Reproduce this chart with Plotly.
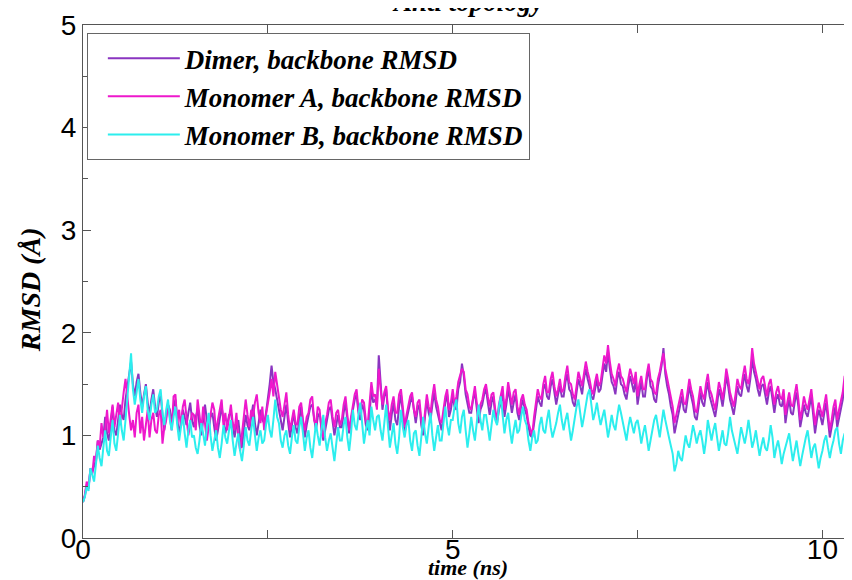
import plotly.graph_objects as go

# sampling interval of the trajectory frames (ns)
TIME_STEP_NS = 0.025

# backbone RMSD (Angstrom), one value per frame
dimer_rmsd = [
    0.35, 0.41, 0.52, 0.48, 0.68, 0.64, 0.70, 0.76, 0.95, 0.86, 0.92, 0.98, 1.18, 1.02, 0.95, 1.10, 1.28, 1.05, 1.00, 1.15,
    1.30, 1.20, 1.15, 1.35, 1.48, 1.60, 1.72, 1.50, 1.38, 1.52, 1.60, 1.42, 1.28, 1.40, 1.50, 1.32, 1.20, 1.35, 1.45, 1.28,
    1.18, 1.32, 1.40, 1.20, 1.05, 1.18, 1.30, 1.25, 1.12, 1.28, 1.35, 1.15, 1.02, 1.12, 1.25, 1.18, 1.10, 1.22, 1.32, 1.15,
    1.08, 1.18, 1.25, 1.10, 1.00, 1.15, 1.30, 1.15, 1.05, 1.18, 1.22, 1.08, 0.95, 1.05, 1.18, 1.28, 1.15, 1.02, 1.10, 1.20,
    1.22, 1.08, 0.98, 1.10, 1.15, 0.98, 0.88, 1.05, 1.20, 1.10, 1.05, 1.18, 1.30, 1.12, 1.00, 1.12, 1.25, 1.15, 1.12, 1.22,
    1.35, 1.50, 1.68, 1.52, 1.45, 1.35, 1.28, 1.15, 1.05, 1.18, 1.30, 1.12, 0.98, 1.10, 1.22, 1.08, 1.02, 1.15, 1.28, 1.12,
    0.98, 1.10, 1.18, 1.28, 1.30, 1.15, 1.05, 1.18, 1.22, 1.08, 0.95, 1.05, 1.15, 1.25, 1.28, 1.12, 1.00, 1.10, 1.20, 1.08,
    1.08, 1.22, 1.32, 1.15, 1.02, 1.15, 1.25, 1.35, 1.40, 1.22, 1.15, 1.30, 1.25, 1.10, 1.05, 1.20, 1.45, 1.32, 1.35, 1.28,
    1.78, 1.50, 1.25, 1.38, 1.45, 1.22, 1.05, 1.20, 1.32, 1.15, 1.10, 1.28, 1.40, 1.22, 1.02, 1.15, 1.25, 1.32, 1.38, 1.22,
    1.12, 1.25, 1.30, 1.10, 1.00, 1.18, 1.35, 1.22, 1.15, 1.30, 1.42, 1.28, 1.20, 1.10, 1.05, 1.18, 1.32, 1.40, 1.18, 1.25,
    1.38, 1.28, 1.25, 1.45, 1.52, 1.70, 1.58, 1.40, 1.30, 1.22, 1.22, 1.35, 1.42, 1.28, 1.12, 1.25, 1.30, 1.40, 1.45, 1.32,
    1.20, 1.32, 1.38, 1.20, 1.12, 1.25, 1.32, 1.42, 1.18, 1.30, 1.45, 1.35, 1.22, 1.32, 1.40, 1.22, 1.15, 1.28, 1.35, 1.25,
    1.20, 1.08, 1.00, 0.98, 1.12, 1.25, 1.38, 1.32, 1.28, 1.45, 1.50, 1.38, 1.35, 1.48, 1.55, 1.42, 1.30, 1.40, 1.48, 1.38,
    1.38, 1.52, 1.60, 1.45, 1.42, 1.32, 1.28, 1.42, 1.55, 1.48, 1.40, 1.55, 1.65, 1.55, 1.48, 1.38, 1.35, 1.45, 1.55, 1.42,
    1.45, 1.58, 1.70, 1.62, 1.82, 1.65, 1.52, 1.48, 1.40, 1.55, 1.62, 1.50, 1.48, 1.40, 1.35, 1.48, 1.58, 1.50, 1.42, 1.55,
    1.30, 1.42, 1.52, 1.38, 1.38, 1.55, 1.65, 1.48, 1.45, 1.35, 1.32, 1.48, 1.58, 1.68, 1.85, 1.60, 1.48, 1.40, 1.28, 1.20,
    1.02, 1.12, 1.20, 1.32, 1.38, 1.25, 1.22, 1.35, 1.48, 1.38, 1.30, 1.18, 1.15, 1.28, 1.42, 1.32, 1.28, 1.42, 1.52, 1.38,
    1.32, 1.25, 1.18, 1.30, 1.45, 1.38, 1.28, 1.42, 1.58, 1.48, 1.35, 1.28, 1.20, 1.32, 1.48, 1.40, 1.38, 1.50, 1.60, 1.48,
    1.42, 1.55, 1.75, 1.62, 1.55, 1.45, 1.38, 1.48, 1.50, 1.40, 1.30, 1.42, 1.48, 1.35, 1.22, 1.35, 1.40, 1.30, 1.28, 1.38,
    1.12, 1.25, 1.35, 1.22, 1.20, 1.32, 1.42, 1.28, 1.08, 1.18, 1.30, 1.22, 1.18, 1.28, 1.38, 1.20, 1.02, 1.15, 1.25, 1.18,
    1.10, 1.22, 1.32, 1.15, 0.98, 1.08, 1.20, 1.28, 1.08, 1.18, 1.28, 1.35, 1.50,
]

monomer_a_rmsd = [
    0.35, 0.42, 0.55, 0.50, 0.66, 0.62, 0.80, 0.74, 0.95, 0.88, 1.12, 0.98, 1.05, 1.25, 1.02, 1.18, 1.30, 1.08, 1.22, 1.32,
    1.10, 1.28, 1.42, 1.55, 1.35, 1.20, 1.05, 1.15, 0.98, 1.22, 1.30, 1.02, 1.18, 0.95, 1.10, 1.25, 0.98, 1.15, 1.22, 1.05,
    1.02, 1.20, 1.25, 0.92, 1.08, 1.15, 1.30, 1.18, 1.05, 1.38, 1.40, 1.12, 1.25, 1.08, 1.28, 1.35, 1.18, 1.00, 1.12, 1.22,
    1.20, 1.05, 1.35, 1.22, 1.05, 1.28, 1.12, 0.95, 1.08, 1.18, 1.32, 1.25, 1.02, 1.15, 1.25, 1.35, 1.10, 1.22, 1.05, 1.18,
    1.30, 1.12, 1.05, 1.22, 0.98, 0.85, 1.02, 1.15, 1.35, 1.20, 1.08, 1.25, 1.18, 1.32, 1.40, 1.22, 1.12, 1.28, 1.05, 1.20,
    1.30, 1.42, 1.55, 1.38, 1.62, 1.48, 1.35, 1.25, 1.18, 1.32, 1.42, 1.20, 1.05, 1.15, 1.25, 1.12, 1.10, 1.28, 1.32, 1.15,
    1.05, 1.18, 1.22, 1.35, 1.38, 1.15, 1.10, 1.28, 1.25, 1.05, 0.98, 1.12, 1.20, 1.32, 1.35, 1.18, 1.08, 1.22, 1.25, 1.10,
    1.15, 1.30, 1.38, 1.20, 1.05, 1.18, 1.28, 1.40, 1.45, 1.25, 1.20, 1.35, 1.32, 1.15, 1.10, 1.28, 1.52, 1.38, 1.40, 1.25,
    1.65, 1.45, 1.30, 1.42, 1.48, 1.25, 1.15, 1.30, 1.38, 1.22, 1.22, 1.40, 1.45, 1.28, 1.08, 1.20, 1.30, 1.38, 1.42, 1.25,
    1.18, 1.32, 1.35, 1.15, 1.05, 1.22, 1.40, 1.28, 1.22, 1.38, 1.50, 1.35, 1.28, 1.15, 1.12, 1.25, 1.38, 1.45, 1.25, 1.32,
    1.45, 1.30, 1.38, 1.52, 1.58, 1.65, 1.62, 1.45, 1.40, 1.28, 1.25, 1.38, 1.48, 1.32, 1.18, 1.30, 1.35, 1.45, 1.50, 1.38,
    1.28, 1.40, 1.42, 1.25, 1.15, 1.30, 1.38, 1.48, 1.25, 1.35, 1.52, 1.40, 1.30, 1.42, 1.45, 1.28, 1.20, 1.35, 1.40, 1.30,
    1.25, 1.12, 1.05, 1.00, 1.18, 1.30, 1.45, 1.38, 1.35, 1.50, 1.58, 1.42, 1.42, 1.55, 1.62, 1.48, 1.38, 1.45, 1.55, 1.42,
    1.45, 1.58, 1.68, 1.52, 1.50, 1.40, 1.35, 1.48, 1.62, 1.55, 1.48, 1.60, 1.72, 1.62, 1.55, 1.45, 1.40, 1.52, 1.60, 1.48,
    1.52, 1.65, 1.78, 1.70, 1.88, 1.72, 1.60, 1.55, 1.48, 1.62, 1.70, 1.58, 1.55, 1.48, 1.42, 1.55, 1.65, 1.58, 1.50, 1.62,
    1.38, 1.50, 1.58, 1.45, 1.45, 1.60, 1.70, 1.55, 1.52, 1.42, 1.40, 1.55, 1.62, 1.72, 1.80, 1.65, 1.55, 1.48, 1.35, 1.28,
    1.12, 1.20, 1.28, 1.38, 1.45, 1.32, 1.30, 1.42, 1.55, 1.45, 1.38, 1.25, 1.22, 1.35, 1.48, 1.40, 1.35, 1.50, 1.60, 1.45,
    1.40, 1.32, 1.25, 1.38, 1.52, 1.45, 1.35, 1.48, 1.65, 1.55, 1.42, 1.35, 1.28, 1.40, 1.55, 1.48, 1.45, 1.58, 1.68, 1.55,
    1.50, 1.62, 1.85, 1.70, 1.62, 1.52, 1.45, 1.55, 1.58, 1.48, 1.38, 1.50, 1.55, 1.42, 1.30, 1.42, 1.48, 1.38, 1.35, 1.45,
    1.20, 1.32, 1.42, 1.30, 1.28, 1.40, 1.50, 1.35, 1.15, 1.25, 1.38, 1.30, 1.25, 1.35, 1.45, 1.28, 1.10, 1.22, 1.32, 1.25,
    1.18, 1.30, 1.40, 1.22, 1.05, 1.15, 1.28, 1.35, 1.15, 1.25, 1.35, 1.42, 1.58,
]

monomer_b_rmsd = [
    0.35, 0.40, 0.50, 0.46, 0.68, 0.60, 0.55, 0.72, 0.90, 0.78, 0.70, 0.88, 1.05, 0.85, 0.80, 0.98, 1.15, 0.92, 0.85, 1.02,
    1.20, 1.05, 0.95, 1.15, 1.35, 1.52, 1.80, 1.45, 1.30, 1.42, 1.55, 1.35, 1.22, 1.38, 1.48, 1.25, 1.15, 1.30, 1.40, 1.22,
    1.25, 1.38, 1.45, 1.22, 1.10, 1.25, 1.35, 1.15, 1.05, 1.18, 1.28, 1.10, 0.95, 1.08, 1.20, 1.02, 0.88, 1.05, 1.15, 0.98,
    1.00, 0.88, 0.82, 0.95, 1.12, 1.02, 0.90, 1.08, 1.22, 1.00, 0.85, 0.95, 1.05, 0.88, 0.78, 0.92, 1.10, 0.98, 0.92, 1.05,
    1.15, 0.95, 0.80, 0.92, 1.02, 0.85, 0.75, 0.90, 1.08, 0.95, 0.90, 1.05, 1.18, 1.00, 0.85, 0.98, 1.05, 0.92, 0.95, 1.10,
    1.20, 1.05, 0.98, 1.15, 1.35, 1.18, 1.12, 0.95, 0.88, 1.00, 1.05, 0.90, 0.82, 0.98, 1.10, 0.95, 0.92, 1.08, 1.18, 1.02,
    0.85, 0.98, 1.05, 0.88, 0.78, 0.95, 1.12, 1.00, 0.90, 1.05, 1.20, 0.98, 0.85, 0.95, 1.02, 0.88, 0.75, 0.92, 1.08, 0.95,
    0.95, 1.10, 1.18, 0.98, 0.85, 1.02, 1.25, 1.10, 1.05, 1.20, 1.32, 1.12, 0.92, 1.05, 1.15, 1.00, 1.28, 1.15, 1.05, 1.18,
    1.20, 1.05, 0.95, 1.12, 1.30, 1.08, 0.88, 1.00, 1.12, 0.92, 0.82, 0.98, 1.25, 1.08, 0.98, 1.10, 1.15, 0.95, 0.85, 1.02,
    1.05, 0.90, 0.80, 0.98, 1.18, 1.02, 0.92, 1.08, 1.22, 1.00, 0.85, 0.98, 1.10, 0.95, 0.95, 1.12, 1.28, 1.10, 1.00, 1.15,
    1.15, 1.28, 1.35, 1.12, 1.02, 1.18, 1.25, 1.05, 0.88, 1.02, 1.18, 1.05, 0.95, 1.12, 1.30, 1.15, 1.05, 1.20, 1.20, 1.08,
    0.95, 1.10, 1.25, 1.15, 1.10, 1.28, 1.38, 1.20, 1.02, 1.15, 1.22, 1.05, 0.92, 1.05, 1.15, 1.02, 1.05, 1.18, 1.28, 1.15,
    1.10, 0.95, 0.85, 0.98, 1.05, 0.92, 0.95, 1.10, 1.18, 1.05, 1.02, 1.15, 1.25, 1.08, 0.98, 1.05, 1.12, 1.22, 1.30, 1.15,
    1.05, 1.15, 1.22, 1.08, 0.95, 1.05, 1.18, 1.28, 1.35, 1.20, 1.08, 1.18, 1.28, 1.40, 1.45, 1.30, 1.15, 1.22, 1.32, 1.20,
    1.10, 1.18, 1.25, 1.12, 0.98, 1.08, 1.20, 1.10, 1.05, 1.18, 1.30, 1.22, 1.12, 1.05, 0.95, 1.08, 1.18, 1.10, 1.02, 1.12,
    1.15, 1.05, 0.92, 1.02, 1.10, 0.98, 0.85, 0.95, 1.05, 1.15, 1.20, 1.08, 0.98, 1.12, 1.25, 1.15, 1.05, 0.98, 0.90, 0.82,
    0.65, 0.72, 0.85, 0.78, 0.75, 0.88, 1.00, 0.92, 0.88, 0.98, 1.10, 1.02, 0.92, 1.00, 1.05, 0.95, 0.82, 0.95, 1.15, 1.05,
    0.95, 1.05, 1.12, 0.98, 0.85, 0.95, 1.05, 0.92, 0.90, 1.02, 1.18, 1.05, 0.98, 0.90, 0.82, 0.95, 1.08, 1.00, 0.92, 1.02,
    1.15, 1.02, 0.88, 0.95, 1.05, 0.92, 0.80, 0.90, 0.98, 0.88, 0.85, 0.95, 1.10, 0.98, 0.78, 0.88, 0.95, 0.85, 0.72, 0.82,
    0.88, 0.95, 1.02, 0.88, 0.75, 0.85, 0.95, 0.82, 0.70, 0.80, 0.90, 0.98, 1.05, 0.92, 0.78, 0.88, 0.92, 0.80, 0.68, 0.78,
    0.85, 0.95, 1.00, 0.88, 0.78, 0.88, 0.95, 1.05, 1.08, 0.92, 0.82, 0.95, 1.02,
]

series_names = ["Dimer, backbone RMSD", "Monomer A, backbone RMSD", "Monomer B, backbone RMSD"]
series_colors = ["#8a35c0", "#ee18cc", "#2ceeee"]

serif = "Liberation Serif, Times New Roman, serif"
sans = "Liberation Sans, Arial, sans-serif"


def serif_font(size):
    return dict(family=serif, size=size, color="black", style="italic", weight="bold")


fig = go.Figure()
for name, color, vals in zip(series_names, series_colors,
                             [dimer_rmsd, monomer_a_rmsd, monomer_b_rmsd]):
    time_ns = [round(i * TIME_STEP_NS, 3) for i in range(len(vals))]
    fig.add_trace(go.Scatter(x=time_ns, y=vals, mode="lines", name=name,
                             line=dict(color=color, width=2)))

axis_common = dict(showgrid=False, zeroline=False, showline=True, mirror="ticks",
                   linecolor="#555555", linewidth=1, ticks="inside", ticklen=8,
                   tickcolor="#555555", automargin=False,
                   tickfont=dict(family=sans, size=28, color="black"))

fig.update_xaxes(range=[0, 10.4], dtick=5, tick0=0, ticklabelstandoff=-14,
                 minor=dict(dtick=2.5, ticks="inside", ticklen=8, tickcolor="#555555"),
                 **axis_common)
fig.update_yaxes(range=[0, 5], dtick=1, tick0=0,
                 minor=dict(dtick=0.5, ticks="inside", ticklen=5, tickcolor="#555555"),
                 **axis_common)

# title and axis labels as annotations so they sit where the original puts them
fig.add_annotation(text="Anti topology", xref="paper", yref="paper", x=0.5, y=1.0125,
                   xanchor="center", yanchor="bottom", showarrow=False, font=serif_font(27))
fig.add_annotation(text="time (ns)", xref="paper", yref="paper", x=0.5, y=-0.058,
                   xanchor="center", yanchor="middle", showarrow=False, font=serif_font(22))
fig.add_annotation(text="RMSD (Å)", xref="paper", yref="paper", x=-0.069, y=0.485,
                   xanchor="center", yanchor="middle", textangle=-90, showarrow=False,
                   font=serif_font(28))

# the page puts the figure 8px in from the corner, so the figure is 8px smaller
fig.update_layout(
    width=844, height=572,
    margin=dict(l=75, r=0, t=17, b=42),
    plot_bgcolor="white", paper_bgcolor="white",
    showlegend=True,
    legend=dict(x=0.005, y=0.984, xanchor="left", yanchor="top",
                bordercolor="#666666", borderwidth=1, bgcolor="white",
                itemwidth=72, indentation=15, tracegroupgap=0,
                font=serif_font(27)),
)

fig.write_html("out.html")
